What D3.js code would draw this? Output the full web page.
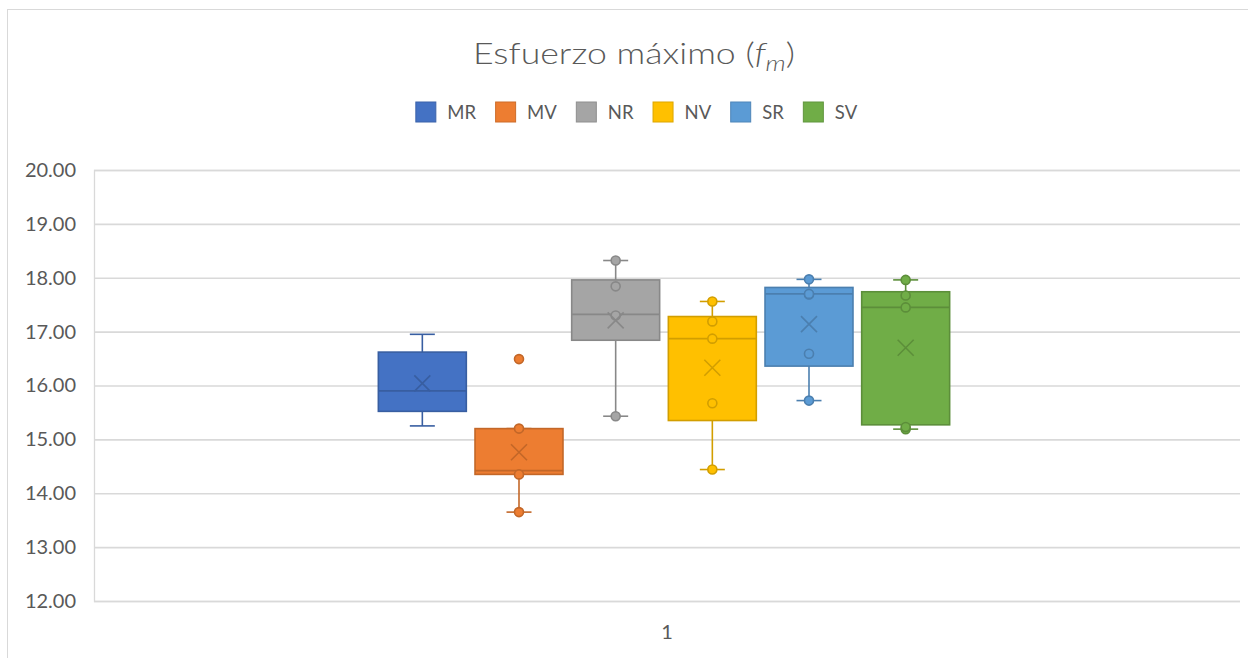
<!DOCTYPE html>
<html>
<head>
<meta charset="utf-8">
<script src="https://cdn.jsdelivr.net/npm/d3@7"></script>
<style>
  html, body { margin: 0; padding: 0; background: #fff; }
  svg { display: block; font-family: Lato, "Open Sans", sans-serif; }
</style>
</head>
<body>
<svg id="chart" width="1248" height="658"></svg>
<script>
// Category on the x axis and the six series
const categories = ["1"];
const series = ["MR", "MV", "NR", "NV", "SR", "SV"];
const colors = ["#4472C4", "#ED7D31", "#A5A5A5", "#FFC000", "#5B9BD5", "#70AD47"];

// Box statistics per series (MPa)
const whiskerLow  = [15.25, 13.65, 15.43, 14.44, 15.72, 15.19];
const q1          = [15.52, 14.35, 16.84, 15.35, 16.36, 15.27];
const median      = [15.90, 14.42, 17.32, 16.87, 17.70, 17.45];
const q3          = [16.62, 15.20, 17.96, 17.28, 17.82, 17.74];
const whiskerHigh = [16.95, 15.20, 18.32, 17.56, 17.97, 17.96];
const mean        = [16.04, 14.76, 17.21, 16.33, 17.14, 16.70];

// Individual observations drawn as markers (MR markers hidden)
const points = [
  [],
  [13.65, 14.35, 15.20, 16.49],
  [15.43, 17.30, 17.84, 18.32],
  [14.44, 15.67, 16.87, 17.19, 17.56],
  [15.72, 16.59, 17.69, 17.70, 17.97],
  [15.19, 15.23, 17.45, 17.67, 17.96]
];

// Axis ticks
const yTicks = [12, 13, 14, 15, 16, 17, 18, 19, 20];

const svg = d3.select("#chart");
const W = 1248, H = 658;
const plot = { left: 94, right: 1240, top: 170, bottom: 601 };
const textColor = "#595959";
const gridColor = "#D9D9D9";

// Chart frame
svg.append("rect")
  .attr("x", 7.5).attr("y", 9.5)
  .attr("width", W + 20).attr("height", H + 20)
  .attr("fill", "#fff").attr("stroke", gridColor).attr("stroke-width", 1);

const y = d3.scaleLinear().domain([12, 20]).range([plot.bottom, plot.top]);
const xOuter = d3.scaleBand().domain(categories).range([plot.left, plot.right]);
const cx = xOuter(categories[0]) + xOuter.bandwidth() / 2;
const xInner = d3.scaleBand().domain(series)
  .range([cx - 293, cx + 287])
  .paddingInner(0.09).paddingOuter(0.045);

// Gridlines and y axis labels
const yAxis = d3.axisLeft(y).tickValues(yTicks)
  .tickSize(-(plot.right - plot.left))
  .tickPadding(18)
  .tickFormat(d3.format(".2f"));
const gy = svg.append("g").attr("transform", `translate(${plot.left},0)`).call(yAxis);
gy.select(".domain").attr("stroke", gridColor).attr("stroke-width", 1.3);
gy.selectAll(".tick line").attr("stroke", gridColor).attr("stroke-width", 1.6);
gy.selectAll(".tick text")
  .attr("fill", textColor).attr("font-size", 20)
  .attr("font-family", "Lato, 'Open Sans', sans-serif");

// x axis label
const xAxis = d3.axisBottom(xOuter).tickSize(0).tickPadding(24);
const gx = svg.append("g").attr("transform", `translate(0,${plot.bottom})`).call(xAxis);
gx.select(".domain").remove();
gx.selectAll(".tick text")
  .attr("fill", textColor).attr("font-size", 20)
  .attr("font-family", "Lato, 'Open Sans', sans-serif");

// Box plots
const capHalf = 12.5;
const xHalf = 8;
series.forEach((s, i) => {
  const fill = colors[i];
  const dark = d3.color(fill).darker(0.55).formatHex();
  const x0 = xInner(s);
  const bw = xInner.bandwidth();
  const mx = x0 + bw / 2;
  const g = svg.append("g").attr("class", "box").attr("stroke", dark).attr("stroke-width", 1.6);

  // whiskers
  g.append("line").attr("x1", mx).attr("x2", mx).attr("y1", y(q3[i])).attr("y2", y(whiskerHigh[i]));
  g.append("line").attr("x1", mx).attr("x2", mx).attr("y1", y(q1[i])).attr("y2", y(whiskerLow[i]));
  g.append("line").attr("x1", mx - capHalf).attr("x2", mx + capHalf)
    .attr("y1", y(whiskerHigh[i])).attr("y2", y(whiskerHigh[i]));
  g.append("line").attr("x1", mx - capHalf).attr("x2", mx + capHalf)
    .attr("y1", y(whiskerLow[i])).attr("y2", y(whiskerLow[i]));

  // box
  g.append("rect")
    .attr("x", x0).attr("y", y(q3[i]))
    .attr("width", bw).attr("height", y(q1[i]) - y(q3[i]))
    .attr("fill", fill);

  // median
  g.append("line").attr("x1", x0).attr("x2", x0 + bw)
    .attr("y1", y(median[i])).attr("y2", y(median[i]));

  // observations
  g.selectAll("circle").data(points[i]).join("circle")
    .attr("cx", mx).attr("cy", d => y(d)).attr("r", 4.5)
    .attr("fill", fill);

  // mean marker
  const my = y(mean[i]);
  g.append("path")
    .attr("d", `M${mx - xHalf},${my - xHalf}L${mx + xHalf},${my + xHalf}M${mx - xHalf},${my + xHalf}L${mx + xHalf},${my - xHalf}`)
    .attr("fill", "none");
});

// Title
const title = svg.append("text")
  .attr("x", 634).attr("y", 64)
  .attr("text-anchor", "middle")
  .attr("textLength", 322)
  .attr("lengthAdjust", "spacingAndGlyphs")
  .attr("fill", textColor).attr("font-size", 29).attr("font-weight", 300);
title.append("tspan").text("Esfuerzo máximo (");
title.append("tspan").attr("font-style", "italic").text("f");
title.append("tspan").attr("font-style", "italic").attr("font-size", 21).attr("dy", 7).text("m");
title.append("tspan").attr("dy", -7).text(")");

// Legend
const legend = svg.append("g");
let lx = 0;
series.forEach((s, i) => {
  const item = legend.append("g").attr("transform", `translate(${lx},0)`);
  item.append("rect").attr("x", 0).attr("y", 102).attr("width", 20).attr("height", 20)
    .attr("fill", colors[i]).attr("stroke", d3.color(colors[i]).darker(0.4).formatHex()).attr("stroke-width", 1);
  const t = item.append("text").attr("x", 31.5).attr("y", 119)
    .attr("fill", textColor).attr("font-size", 18.5).text(s);
  lx += 31.5 + t.node().getComputedTextLength() + 19.5;
});
const legendWidth = lx - 19.5;
legend.attr("transform", `translate(${636.5 - legendWidth / 2},0)`);
</script>
</body>
</html>
